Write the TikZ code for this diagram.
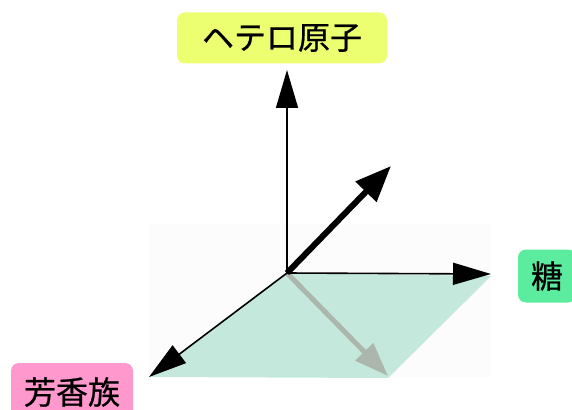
\documentclass[tikz,border=0pt]{standalone}
\usepackage{fontspec}
\newfontfamily\cjk{Noto Sans CJK JP}[FakeBold=0.6]
\usetikzlibrary{arrows.meta}
\definecolor{hetero}{RGB}{236,255,112}
\definecolor{sugar}{RGB}{92,236,160}
\definecolor{arom}{RGB}{255,152,204}
\definecolor{plane}{RGB}{196,232,220}
\definecolor{shadow}{RGB}{172,182,172}
\definecolor{backg}{RGB}{252,252,252}
\tikzset{
  lab/.style={rounded corners=8pt, inner sep=0pt, font=\cjk\fontsize{32}{36}\selectfont, text=black},
  axis/.style={line width=1.6pt, -{Triangle[length=38pt,width=22pt]}},
  bold/.style={line width=6pt, -{Triangle[length=36pt,width=28pt]}},
  shade/.style={draw=shadow, line width=5pt, -{Triangle[length=34pt,width=24pt]}}
}
\begin{document}
\begin{tikzpicture}[x=1pt,y=-1pt]
\useasboundingbox (0,0) rectangle (572,409);
\clip (0,0) rectangle (572,409);
\fill[backg] (150,224) rectangle (490,377);
\coordinate (o) at (287,273);
\coordinate (up) at (287,70);
\coordinate (rt) at (491,274);
\coordinate (dl) at (149,377);
\coordinate (bt) at (391,166);
\coordinate (gr) at (388,376);
\coordinate (pr) at (491,276);
\coordinate (pb) at (388,378);
\fill[plane] (o) -- (pr) -- (pb) -- (dl) -- cycle;
\draw[shade] (o) -- (gr);
\draw[axis] (o) -- (up);
\draw[axis] (o) -- (rt);
\draw[axis] (o) -- (dl);
\draw[bold] (o) -- (bt);
\node[lab, fill=hetero, minimum width=210pt, minimum height=51pt] (hetero) at (282,38) {ヘテロ原子};
\node[lab, fill=sugar, minimum width=58pt, minimum height=53pt] (sugar) at (547,276) {糖};
\node[lab, fill=arom, minimum width=122pt, minimum height=58pt] (arom) at (72,392) {芳香族};
\end{tikzpicture}
\end{document}
